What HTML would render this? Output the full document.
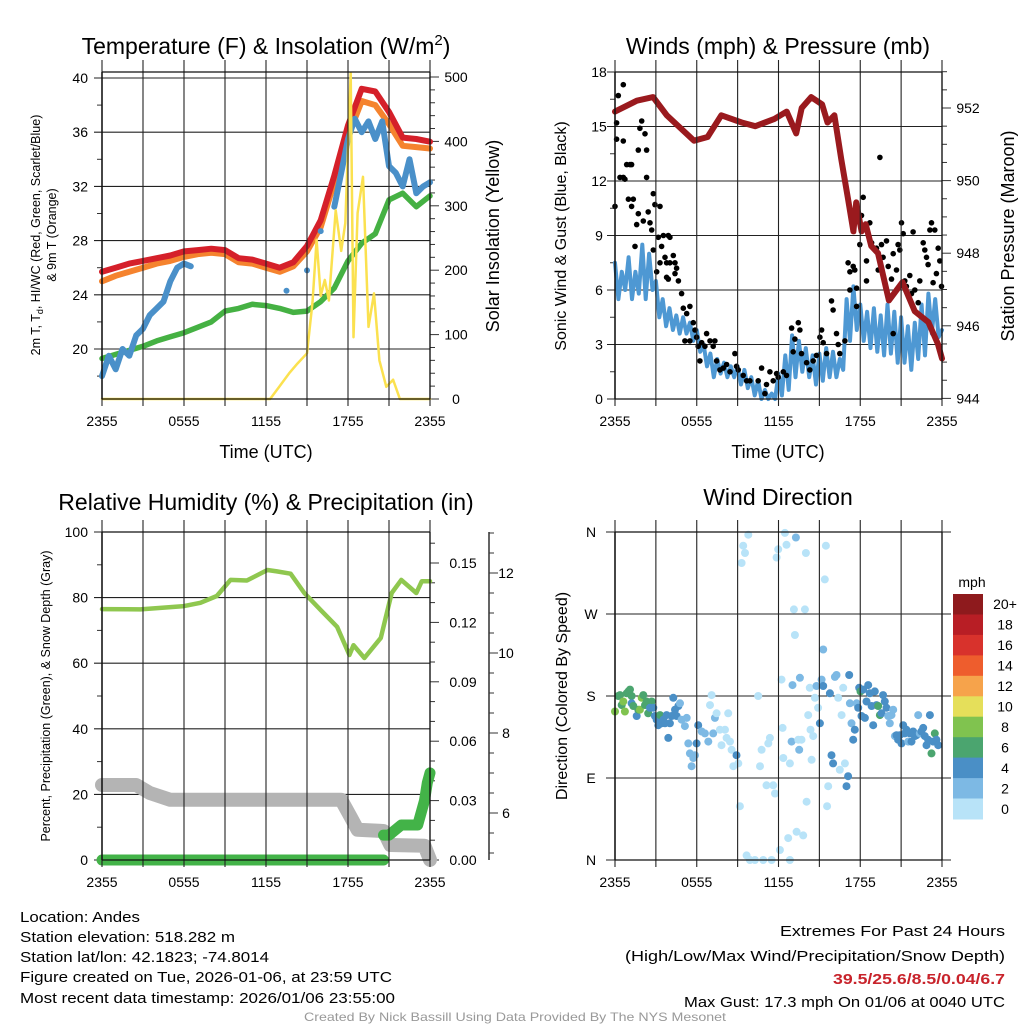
<!DOCTYPE html>
<html><head><meta charset="utf-8"><title>Andes Mesonet</title>
<style>
html,body{margin:0;padding:0;background:#fff;}
svg{display:block;font-family:"Liberation Sans",sans-serif;}
.tk{font-size:14px;fill:#000;}
.ttl{font-size:23px;fill:#000;}
.axt{font-size:18px;fill:#000;}
</style></head>
<body>
<svg id="fig" width="1024" height="1024" viewBox="0 0 1024 1024" xmlns="http://www.w3.org/2000/svg">
<rect x="0" y="0" width="1024" height="1024" fill="#fff"/>
<text class="ttl" x="266" y="54" text-anchor="middle">Temperature (F) &amp; Insolation (W/m<tspan dy="-9" font-size="15">2</tspan><tspan dy="9">)</tspan></text>
<text class="ttl" x="778" y="54" text-anchor="middle">Winds (mph) &amp; Pressure (mb)</text>
<text class="ttl" x="266" y="510" text-anchor="middle">Relative Humidity (%) &amp; Precipitation (in)</text>
<text class="ttl" x="778" y="505" text-anchor="middle">Wind Direction</text>

<text x="0" y="0" font-size="12.5" text-anchor="middle" transform="translate(40,235) rotate(-90)">2m T, T<tspan dy="3" font-size="9">d</tspan><tspan dy="-3">, HI/WC (Red, Green, Scarlet/Blue)</tspan></text>
<text x="0" y="0" font-size="12.5" text-anchor="middle" transform="translate(56,235) rotate(-90)">&amp; 9m T (Orange)</text>
<text class="axt" x="0" y="0" text-anchor="middle" transform="translate(499,236) rotate(-90)">Solar Insolation (Yellow)</text>
<text class="axt" x="266" y="458" text-anchor="middle">Time (UTC)</text>
<text x="0" y="0" font-size="16" text-anchor="middle" transform="translate(566,236) rotate(-90)">Sonic Wind &amp; Gust (Blue, Black)</text>
<text class="axt" x="0" y="0" text-anchor="middle" transform="translate(1014,236) rotate(-90)">Station Pressure (Maroon)</text>
<text class="axt" x="778" y="458" text-anchor="middle">Time (UTC)</text>
<text x="0" y="0" font-size="12.5" text-anchor="middle" transform="translate(50,696) rotate(-90)">Percent, Precipitation (Green), &amp; Snow Depth (Gray)</text>
<text x="0" y="0" font-size="16" text-anchor="middle" transform="translate(567,696) rotate(-90)">Direction (Colored By Speed)</text>
<text x="972" y="587" font-size="14" text-anchor="middle">mph</text>

<g font-size="15">
<text x="20" y="922" textLength="120" lengthAdjust="spacingAndGlyphs">Location: Andes</text>
<text x="20" y="942" textLength="215" lengthAdjust="spacingAndGlyphs">Station elevation: 518.282 m</text>
<text x="20" y="962" textLength="249" lengthAdjust="spacingAndGlyphs">Station lat/lon: 42.1823; -74.8014</text>
<text x="20" y="982" textLength="372" lengthAdjust="spacingAndGlyphs">Figure created on Tue, 2026-01-06, at 23:59 UTC</text>
<text x="20" y="1003" textLength="375" lengthAdjust="spacingAndGlyphs">Most recent data timestamp: 2026/01/06 23:55:00</text>
</g>
<g font-size="15">
<text x="780" y="936" textLength="225" lengthAdjust="spacingAndGlyphs">Extremes For Past 24 Hours</text>
<text x="625" y="961" textLength="380" lengthAdjust="spacingAndGlyphs">(High/Low/Max Wind/Precipitation/Snow Depth)</text>
<text x="833" y="984" textLength="172" lengthAdjust="spacingAndGlyphs" fill="#c8232b" font-weight="bold">39.5/25.6/8.5/0.04/6.7</text>
<text x="684" y="1007" textLength="321" lengthAdjust="spacingAndGlyphs">Max Gust: 17.3 mph On 01/06 at 0040 UTC</text>
</g>
<text x="304" y="1021" font-size="12" fill="#999" textLength="422" lengthAdjust="spacingAndGlyphs">Created By Nick Bassill Using Data Provided By The NYS Mesonet</text>
</svg>
<script>
// ---------- DATA ----------
const timeTickLabels = ["2355","0555","1155","1755","2355"];
const timeTickHours = [0,6,12,18,24];
const tempTickLabels = [20,24,28,32,36,40];
const solarTickLabels = [0,100,200,300,400,500];
const windTickLabels = [0,3,6,9,12,15,18];
const pressTickLabels = [944,946,948,950,952];
const rhTickLabels = [0,20,40,60,80,100];
const precipTickLabels = ["0.00","0.03","0.06","0.09","0.12","0.15"];
const snowTickLabels = [6,8,10,12];
const dirTickLabels = ["N","E","S","W","N"];

const hourT = [0,1,2,3,4,5,6,7,8,9,10,11,12,13,14,15,16,17,18,19,20,21,22,23,24];
const tempRed = [25.7,26.0,26.3,26.5,26.7,26.9,27.2,27.3,27.4,27.3,26.7,26.6,26.3,26.0,26.4,27.6,29.5,32.8,36.5,39.2,39.0,37.5,35.6,35.5,35.3];
const tempOrange = [25.0,25.4,25.7,26.0,26.3,26.5,26.8,27.0,27.1,27.0,26.4,26.3,26.0,25.7,26.1,27.2,29.0,32.3,35.7,38.3,38.0,36.6,35.0,34.9,34.8];
const dewGreen = [19.3,19.6,19.9,20.2,20.6,20.9,21.2,21.6,22.0,22.8,23.0,23.3,23.2,23.0,22.7,22.8,23.5,24.5,26.5,27.8,28.5,31.0,31.5,30.5,31.3];
const wcT = [0,0.5,1,1.5,2,2.5,3,3.5,4,4.5,5,5.5,6,6.5,7,13.5,14,15,15.5,16,16.5,17,17.5,18,18.5,19,19.5,20,20.5,21,21.5,22,22.5,23,23.5,24];
const wcBlue = [18,19.5,18.5,20,19.5,21,21.5,22.5,23,23.5,25,26,26.3,26.1,null,24.3,null,25.8,null,28.7,null,30.5,33,35.5,37,36,36.8,35.5,36.8,33.5,33,32,34,31.5,32,32.3];
const solarT = [0,12.3,13,13.7,14.3,15,15.4,15.7,16,16.3,16.6,17.1,17.5,17.8,18.2,18.4,18.7,19.1,19.5,19.9,20.3,20.8,21.3,21.8,24];
const solarV = [0,0,20,40,55,71,150,247,160,185,153,293,230,273,506,96,289,345,112,164,60,19,30,0,0];

const pressT = [0,1.6,2.8,3.8,5.8,6.8,7.8,9.3,10.3,11.7,12.6,13.3,13.7,14.4,15.2,15.6,16.1,16.6,17.1,17.5,17.7,18.1,18.4,18.8,19.3,20.1,21.1,22.0,23.0,23.7,24];
const pressV = [951.9,952.2,952.3,951.8,951.1,951.2,951.8,951.6,951.5,951.7,951.9,951.3,952.0,952.3,952.1,951.6,951.8,950.6,949.5,948.6,949.4,948.6,948.8,948.2,948.0,946.7,947.2,946.4,946.1,945.5,945.1];
const windV = [7.5,5.5,7,6, 7.8,5.5,7,5.8, 8.5,5.5,8,6, 6.5,4.5,5.5,4, 5,3.8,4.6,3.6, 4.5,3.6,4.2,3.2, 3.8,2.6,3,1.8, 2.5,1.2,2.2,1.4, 2,1.2,1.8,1.2, 1.8,0.8,1.6,0.6, 1.2,0.2,1,0, 0.5,0,0.3,0, 1.4,0.2,2.4,0.5, 3.5,1.2,3.2,1.5, 2.8,1.2,2.4,0.8, 2.5,1,2.8,1.2, 2.6,1.2,2.2,1.6, 5.5,3.2,6.2,3.8, 5.2,3.2,4.8,2.8, 5,2.6,4.6,2.4, 5.2,2.5,4.8,2, 4.5,2,4,1.6, 4.2,2.2,5.2,2.4, 5.8,3.6,5.5,3.4, 3.8];
const gustT = [0,0.12,0.24,0.61,0.12,0.61,0.37,0.61,0.73,0.86,1.10,1.22,0.98,1.22,1.34,1.59,1.47,1.71,1.71,1.96,1.83,2.20,2.32,2.32,2.08,2.44,2.57,2.69,2.81,2.93,3.30,2.81,3.06,3.18,3.30,3.55,3.91,4.03,3.42,3.67,3.79,4.03,4.28,4.40,4.52,4.65,4.40,3.79,3.91,4.89,5.01,5.26,5.50,5.13,5.50,5.75,5.87,5.99,6.11,6.36,6.23,6.60,6.72,6.97,7.21,7.33,7.46,7.70,7.95,8.19,8.44,8.80,8.92,9.05,9.41,9.66,9.90,10.51,10.76,11.00,11.12,11.37,11.61,11.86,11.98,12.35,12.59,12.96,13.08,13.20,13.45,13.57,13.69,14.06,14.30,14.55,14.79,15.04,15.16,15.28,15.53,15.89,16.01,16.26,16.38,16.50,16.87,17.11,17.24,17.48,17.60,17.24,17.73,17.73,17.97,18.09,18.22,18.46,18.46,18.70,18.83,19.19,19.32,19.44,19.56,19.68,19.93,20.05,20.29,20.42,20.66,20.78,20.90,21.03,21.15,21.27,21.39,21.64,21.76,21.88,22.00,22.25,22.37,22.62,22.74,22.86,22.98,23.11,23.23,23.35,23.47,23.59,23.72,23.84,23.96,20.42];
const gustV = [10.6,15.2,16.7,17.3,14.3,14.2,12.2,12.2,12.1,12.9,12.9,12.9,11.0,10.6,11.0,9.6,8.4,10.2,13.7,15.3,14.9,14.6,13.7,12.2,9.8,10.3,9.7,9.3,11.3,10.7,10.6,8.2,7.0,8.9,7.5,9.0,9.0,8.9,8.4,7.8,7.5,7.5,7.9,7.5,7.2,6.5,6.9,6.7,6.6,5.8,5.0,4.7,5.1,3.2,3.2,4.2,3.8,3.4,2.9,3.1,2.1,2.9,3.6,3.2,2.9,3.2,2.1,1.6,1.7,1.9,1.5,2.5,1.8,1.6,1.3,1.0,1.0,1.0,1.7,0.3,0.8,1.5,1.0,1.4,1.2,1.5,1.3,3.9,2.6,3.3,4.2,3.8,2.5,2.0,1.6,2.1,2.4,3.4,3.8,3.1,2.5,5.4,4.9,3.6,3.0,2.5,3.2,7.5,7.0,7.3,7.1,6.0,6.1,5.1,8.5,10.1,11.1,7.6,6.5,9.7,8.6,8.3,7.1,13.3,8.5,7.8,8.7,7.3,6.6,8.0,7.1,8.5,8.2,9.7,9.1,6.5,6.2,6.8,5.8,9.2,6.0,5.3,6.5,8.6,8.2,7.8,7.4,9.3,9.7,6.4,9.3,6.9,8.3,7.6,6.2,3.6];

const rhT = [0,2.8,6,7.2,8.4,9.4,10.6,12.1,12.8,13.8,14.8,16,17.2,18.1,18.4,19.2,20.4,21.2,21.9,23,23.4,24];
const rhV = [76.5,76.4,77.4,78.4,80.5,85.4,85.2,88.4,88,87.3,81.4,76.2,71.1,62.5,65.5,61.6,67.7,81.4,85.4,81.4,85,85];
const snowT = [0,2.5,3.5,5,17.5,18.2,18.7,20.6,21.1,23.6,24];
const snowV = [6.7,6.7,6.5,6.33,6.33,5.9,5.58,5.55,5.2,5.18,4.83];
const precipT = [0,20.6,20.6,20.6,21.0,21.9,23.1,23.6,23.8,24];
const precipV = [0,0,null,0.0126,0.0126,0.0177,0.0177,0.030,0.039,0.044];

const dirT = [0,0.24,0.37,0.49,0.61,0.73,0.86,0.98,1.1,1.22,1.22,1.34,1.59,1.71,1.83,1.96,2.08,2.2,2.32,2.44,2.69,2.57,2.81,2.93,3.06,3.18,3.3,3.42,3.55,3.67,3.79,3.91,4.03,4.16,4.28,4.4,4.52,4.65,4.77,4.89,5.13,5.26,5.38,5.5,5.62,5.75,5.87,6.11,5.99,6.36,6.6,6.85,6.97,7.09,7.21,7.33,7.46,7.7,7.82,8.07,8.19,8.31,8.44,8.56,8.68,8.92,9.05,9.17,9.29,9.41,9.54,9.66,9.78,9.9,10.27,10.51,10.64,10.76,10.88,11.12,11.25,11.37,11.49,11.61,11.74,11.86,11.98,12.1,12.22,12.3,12.35,12.47,12.59,12.71,12.84,12.84,12.96,13.03,13.13,13.2,13.28,13.33,13.45,13.52,13.57,13.69,13.81,13.94,14.01,14.06,14.18,14.3,14.35,14.43,14.55,14.67,14.79,14.91,15.04,15.16,15.28,15.28,15.4,15.48,15.57,15.65,15.77,15.89,16.01,16.14,16.26,16.38,16.5,16.63,16.75,16.87,16.99,17.11,17.19,17.24,17.36,17.48,17.6,17.73,17.85,17.92,18.02,18.09,18.22,18.34,18.46,18.58,18.7,18.83,18.95,19.07,19.19,19.32,19.44,19.56,19.68,19.8,19.93,20.05,20.17,20.29,20.42,20.54,20.66,20.78,20.9,21.03,21.15,21.27,21.39,21.52,21.64,21.76,21.88,22.0,22.13,22.25,22.37,22.49,22.62,22.74,22.86,22.98,23.11,23.23,23.35,23.47,23.59,23.72,23.84,23.96];
const dirV = [163,180,181,170,174,163,183,185,187,180,172,169,158,165,165,178,181,170,174,161,174,167,167,158,154,148,159,150,154,150,159,134,150,158,178,165,158,169,172,154,147,156,128,117,103,112,115,148,128,141,139,130,170,181,139,156,161,143,126,143,134,161,130,121,103,115,106,59,326,345,337,5,357,0,0,180,103,121,0,82,128,134,0,82,73,332,341,11,198,145,112,359,346,24,0,106,130,192,275,247,354,31,132,121,200,132,27,275,337,64,159,189,143,110,136,178,191,167,150,198,191,231,308,345,59,81,183,115,106,201,203,178,99,159,189,106,81,92,203,172,150,132,143,172,167,189,185,158,187,156,174,192,183,169,148,185,170,169,159,161,181,174,167,158,150,159,165,136,137,132,137,128,148,139,143,130,139,130,141,136,137,159,139,141,145,136,126,132,159,117,130,139,132,126];
const dirSpd = [8.5,6.5,6.5,6.5,8.5,8.5,6.5,6.5,6.5,6.5,4.5,6.5,4.5,6.5,8.5,8.5,6.5,6.5,6.5,6.5,6.5,4.5,4.5,4.5,4.5,4.5,6.5,4.5,4.5,4.5,4.5,4.5,4.5,4.5,4.5,4.5,4.5,4.5,2.5,2.5,2.5,2.5,2.5,2.5,2.5,2.5,2.5,4.5,4.5,2.5,2.5,2.5,1,1,2.5,2.5,1,1,1,1,1,1,1,1,1,4.5,1,1,1,1,1,1,1,1,1,1,1,1,1,1,1,1,1,1,1,1,1,1,1,1,1,1,1,1,1,1,2.5,2.5,1,1,2.5,1,1,2.5,2.5,1,1,1,1,1,1,1,1,1,1,1,2.5,1,4.5,2.5,4.5,2.5,1,1,1,1,4.5,4.5,4.5,2.5,2.5,1,1,1,1,1,4.5,4.5,4.5,2.5,2.5,4.5,4.5,2.5,4.5,4.5,6.5,4.5,4.5,4.5,4.5,4.5,4.5,4.5,4.5,4.5,4.5,6.5,6.5,4.5,4.5,4.5,4.5,2.5,2.5,2.5,2.5,2.5,4.5,4.5,4.5,4.5,4.5,4.5,4.5,2.5,4.5,4.5,4.5,4.5,4.5,2.5,2.5,4.5,4.5,4.5,4.5,4.5,4.5,6.5,4.5,6.5,4.5,4.5,4.5,4.5];

const cbLabels = ["20+","18","16","14","12","10","8","6","4","2","0"];
const cbColors = ["#8e1a1d","#b81e25","#d8322c","#ee5d2d","#f6a34b","#e5df5a","#80c34f","#4ba56f","#4a8fc6","#7db9e4","#b8e3f8"];

// ---------- SCALES ----------
const P1 = {x0:102, x1:430, y0:72, y1:399};
const P2 = {x0:615, x1:942, y0:72, y1:399};
const P3 = {x0:102, x1:430, y0:532, y1:860};
const P4 = {x0:615, x1:942, y0:532, y1:860};
function xL(t){ return P1.x0 + t*(P1.x1-P1.x0)/24; }
function xR(t){ return P2.x0 + t*(P2.x1-P2.x0)/24; }
function yTemp(v){ return 78 + (40-v)*13.55; }
function ySolar(v){ return 399 - v*0.644; }
function yWind(v){ return 399 - v*(327/18); }
function yPress(v){ return 108 + (952-v)*36.3; }
function yRH(v){ return 860 - v*3.28; }
function yPrecip(v){ return 860 - v*1980; }
function ySnow(v){ return 813 - (v-6)*40; }
function yDir(v){ return 860 - v*(328/360); }

const NS = "http://www.w3.org/2000/svg";
const svg = document.getElementById("fig");
function mk(tag, attrs, parent){
  const e = document.createElementNS(NS, tag);
  for (const k in attrs) e.setAttribute(k, attrs[k]);
  (parent||svg).appendChild(e);
  return e;
}
function pathFrom(ts, vs, xf, yf){
  let d = "", segLen = 0;
  for (let i=0;i<ts.length;i++){
    if (vs[i]===null || vs[i]===undefined){ if(segLen===1) d+="l0.01 0 "; segLen=0; continue; }
    const x = xf(ts[i]).toFixed(1), y = yf(vs[i]).toFixed(1);
    d += (segLen===0 ? "M" : "L") + x + " " + y + " ";
    segLen++;
  }
  if (segLen===1) d+="l0.01 0";
  return d;
}
function series(ts, vs, xf, yf, color, w, name, parent){
  const p = mk("path", {d:pathFrom(ts,vs,xf,yf), fill:"none", stroke:color, "stroke-width":w, "stroke-linejoin":"round", "stroke-linecap":"round"}, parent);
  
  
  return p;
}
function gline(x1,y1,x2,y2,parent,w,c){
  return mk("line",{x1:x1,y1:y1,x2:x2,y2:y2,stroke:c||"#111","stroke-width":w||1}, parent);
}
function label(x,y,txt,anchor,parent,size){
  const t = mk("text",{x:x,y:y,"text-anchor":anchor||"middle","font-size":size||14}, parent);
  t.textContent = txt;
  return t;
}

function timeAxis(P, xf, name){
  const g = mk("g",{});
  
  
  for (let h=0; h<=24; h+=3){
    const x = xf(h);
    gline(x, P.y0-12, x, P.y1+7, g, 1.1, "#222");
  }
  for (let i=0;i<timeTickLabels.length;i++){
    const t = label(xf(timeTickHours[i]), P.y1+27, timeTickLabels[i], "middle", g);
    
    
  }
  gline(P.x0, P.y0, P.x1, P.y0, g, 1.3);
  gline(P.x0, P.y1, P.x1, P.y1, g, 1.3);
  gline(P.x0, P.y0, P.x0, P.y1, g, 1.5);
  gline(P.x1, P.y0, P.x1, P.y1, g, 1.3);
}

// ---------- PANEL 1 ----------
const g1 = mk("g",{});


timeAxis(P1, xL, 'temperature-time-axis');
for (let i=0;i<tempTickLabels.length;i++){
  const v = tempTickLabels[i], y = yTemp(v);
  gline(P1.x0-8, y, P1.x1, y, g1, 1.1, "#222");
  const t = label(P1.x0-14, y+5, String(v), "end", g1);
  
  
}
for (let v=18; v<=40; v+=2){ if (v%4) gline(P1.x0-5, yTemp(v), P1.x0, yTemp(v), g1, 1, "#333"); }
for (let v=0; v<=500; v+=20){ gline(P1.x1, ySolar(v), P1.x1+(v%100?5:9), ySolar(v), g1, 1, "#333"); }
for (let i=0;i<solarTickLabels.length;i++){
  const v = solarTickLabels[i];
  const t = label(P1.x1+26, ySolar(v)+5, String(v), "middle", g1);
  
  
}
series(hourT, dewGreen, xL, yTemp, "#45b143", 5.5, "dewpoint-green-line", g1);
series(hourT, tempOrange, xL, yTemp, "#f5832e", 6, "9m-temperature-orange-line", g1);
series(hourT, tempRed, xL, yTemp, "#d5202a", 6, "2m-temperature-red-line", g1);
series(wcT, wcBlue, xL, yTemp, "#4a90c9", 6, "windchill-blue-line", g1);
series(solarT, solarV, xL, ySolar, "#fbe14f", 2.5, "solar-insolation-yellow-line", g1);

// ---------- PANEL 2 ----------
const g2 = mk("g",{});


timeAxis(P2, xR, 'wind-time-axis');
for (let i=0;i<windTickLabels.length;i++){
  const v = windTickLabels[i], y = yWind(v);
  gline(P2.x0-8, y, P2.x1, y, g2, 1.1, "#222");
  const t = label(P2.x0-16, y+5, String(v), "middle", g2);
  
  
}
for (let v=1.5; v<18; v+=3){ gline(P2.x0-5, yWind(v), P2.x0, yWind(v), g2, 1, "#333"); }
for (let v=944; v<=953; v+=0.5){ gline(P2.x1, yPress(v), P2.x1+(v%2===0?9:5), yPress(v), g2, 1, "#333"); }
for (let i=0;i<pressTickLabels.length;i++){
  const v = pressTickLabels[i];
  const t = label(P2.x1+26, yPress(v)+5, String(v), "middle", g2);
  
  
}
const windT = windV.map((v,i)=>i*0.25);
series(windT, windV, xR, yWind, "#4e98d3", 4, "sonic-wind-blue-line", g2);
for (let i=0;i<Math.min(gustT.length,gustV.length);i++){
  const c = mk("circle",{cx:xR(gustT[i]).toFixed(1), cy:yWind(gustV[i]).toFixed(1), r:2.8, fill:"#000"}, g2);
  
  
}
series(pressT, pressV, xR, yPress, "#9a1a1e", 6, "pressure-maroon-line", g2);

// ---------- PANEL 3 ----------
const g3 = mk("g",{});


timeAxis(P3, xL, 'humidity-time-axis');
for (let i=0;i<rhTickLabels.length;i++){
  const v = rhTickLabels[i], y = yRH(v);
  gline(P3.x0-8, y, P3.x1, y, g3, 1.1, "#222");
  const t = label(P3.x0-14, y+5, String(v), "end", g3);
  
  
}
for (let v=10; v<100; v+=20){ gline(P3.x0-5, yRH(v), P3.x0, yRH(v), g3, 1, "#333"); }
for (let v=0; v<=0.165; v+=0.01){ gline(P3.x1, yPrecip(v), P3.x1+(Math.round(v*100)%3?5:9), yPrecip(v), g3, 1, "#333"); }
for (let i=0;i<precipTickLabels.length;i++){
  const v = parseFloat(precipTickLabels[i]);
  const t = label(P3.x1+33, yPrecip(v)+5, precipTickLabels[i], "middle", g3);
  
  
}
const snowAxisX = 489;
gline(snowAxisX, 532, snowAxisX, 860, g3, 1.3);
for (let v=4.9; v<=13.5; v+=0.5){
  const y = ySnow(Math.round(v*2)/2);
  if (y<533 || y>860) continue;
  gline(snowAxisX, y, snowAxisX+(Math.round(v*2)%4===0?9:5), y, g3, 1, "#333");
}
for (let i=0;i<snowTickLabels.length;i++){
  const v = snowTickLabels[i];
  const t = label(snowAxisX+17, ySnow(v)+5, String(v), "middle", g3);
  
  
}
series(rhT, rhV, xL, yRH, "#8fc74f", 4.5, "humidity-green-line", g3);
series(snowT, snowV, xL, ySnow, "#b4b4b4", 14, "snow-depth-gray-line", g3);
series(precipT, precipV, xL, yPrecip, "#43b348", 11, "precipitation-green-line", g3);

// ---------- PANEL 4 ----------
const g4 = mk("g",{});


timeAxis(P4, xR, 'direction-time-axis');
for (let i=0;i<dirTickLabels.length;i++){
  const y = yDir(i*90);
  gline(P4.x0-9, y, P4.x1+9, y, g4, 1.1, "#222");
  const t = label(P4.x0-24, y+5, dirTickLabels[i], "middle", g4);
  
  
}
function speedColor(s){ const b = Math.min(10, Math.floor(s/2)); return cbColors[10-b]; }
const nDir = Math.min(dirT.length, dirV.length, dirSpd.length);
for (let i=0;i<nDir;i++){
  const c = mk("circle",{cx:xR(dirT[i]).toFixed(1), cy:yDir(dirV[i]).toFixed(1), r:4, fill:speedColor(dirSpd[i])}, g4);
  
  
}
const cb = mk("g",{});


const cbTop = 594, cbH = 225/11;
for (let i=0;i<cbLabels.length;i++){
  const r = mk("rect",{x:953, y:(cbTop+i*cbH).toFixed(1), width:30, height:(cbH+0.5).toFixed(1), fill:cbColors[i]}, cb);
  
  
  const t = label(1005, cbTop+i*cbH+cbH/2+5, cbLabels[i], "middle", cb);
  
  
}
</script>
</body></html>
